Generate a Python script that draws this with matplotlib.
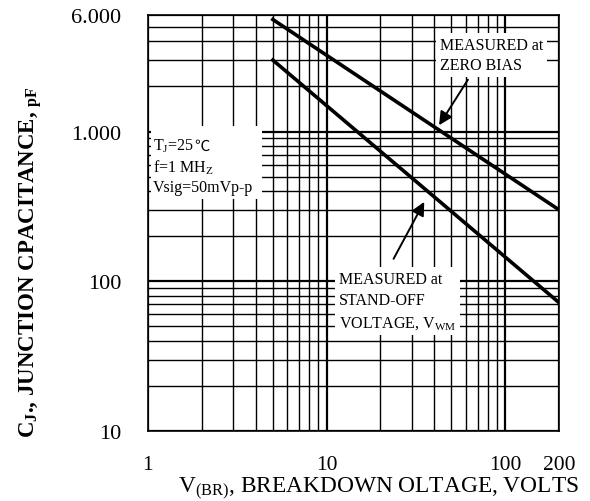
import numpy as np
import matplotlib
matplotlib.use("Agg")
import matplotlib.pyplot as plt
from matplotlib.patches import Rectangle
from matplotlib.ticker import FixedLocator, NullFormatter

plt.rcParams['font.family'] = ['Liberation Serif', 'DejaVu Serif']
plt.rcParams['mathtext.fontset'] = 'custom'
plt.rcParams['mathtext.rm'] = 'Liberation Serif'
plt.rcParams['mathtext.it'] = 'Liberation Serif:italic'
plt.rcParams['mathtext.bf'] = 'Liberation Serif:bold'

# data
voltage = [5, 200]
cap_zero_bias = [5600, 300]
cap_standoff = [3000, 72]

xticks = [1, 10, 100, 200]
xticklabels = ["1", "10", "100", "200"]
yticks = [10, 100, 1000, 6000]
yticklabels = ["10", "100", "1.000", "6.000"]

x_minor = [2, 3, 4, 5, 6, 7, 8, 9, 20, 30, 40, 50, 60, 70, 80, 90]
y_minor = [20, 30, 40, 50, 60, 70, 80, 90,
           200, 300, 400, 500, 600, 700, 800, 900,
           2000, 3000, 4000, 5000]

fig = plt.figure(figsize=(5.9, 5.02), dpi=100)
ax = fig.add_axes([0.2508, 0.1394, 0.6967, 0.8287])

ax.set_xscale('log')
ax.set_yscale('log')
ax.set_xlim(1, 200)
ax.set_ylim(10, 6000)

ax.xaxis.set_major_locator(FixedLocator(xticks))
ax.set_xticklabels(xticklabels)
ax.yaxis.set_major_locator(FixedLocator(yticks))
ax.set_yticklabels(yticklabels)
ax.xaxis.set_minor_locator(FixedLocator(x_minor))
ax.yaxis.set_minor_locator(FixedLocator(y_minor))
ax.xaxis.set_minor_formatter(NullFormatter())
ax.yaxis.set_minor_formatter(NullFormatter())

ax.tick_params(which='both', length=0)
ax.tick_params(axis='x', pad=17, labelsize=15.5)
ax.tick_params(axis='y', pad=19, labelsize=16)

ax.grid(which='major', color='black', linewidth=1.6)
ax.grid(which='minor', color='black', linewidth=1.0)
ax.set_axisbelow(True)
for sp in ax.spines.values():
    sp.set_linewidth(1.2)

ax.plot(voltage, cap_zero_bias, color='black', linewidth=2.6, zorder=3)
ax.plot(voltage, cap_standoff, color='black', linewidth=2.6, zorder=3)

box = dict(facecolor='white', edgecolor='none', pad=3)

# conditions box (white patch + three lines, degree-C sign from a CJK font)
ax.add_patch(Rectangle((0.008, 0.558), 0.27, 0.176, transform=ax.transAxes,
                       facecolor='white', edgecolor='none', zorder=2.5))
t1 = ax.text(1.07, 930, "T$_\\mathrm{J}$=25", fontsize=11.5, va='top',
             ha='left', zorder=4)
ax.annotate("\u2103", xy=(1, 0), xycoords=t1, ha='left', va='bottom',
            fontsize=11, family=['Noto Sans CJK SC', 'DejaVu Sans'], zorder=4)
ax.text(1.07, 668, "f=1 MH$_\\mathrm{Z}$", fontsize=11.5, va='top',
        ha='left', zorder=4)
ax.text(1.07, 480, "Vsig=50mVp-p", fontsize=11.5, va='top',
        ha='left', zorder=4)

ax.text(43, 4300, "MEASURED at\nZERO BIAS",
        fontsize=11.5, va='top', ha='left', linespacing=1.35, bbox=box, zorder=4)
ax.text(11.7, 117, "MEASURED at\nSTAND-OFF\nVOLTAGE, V$_\\mathrm{WM}$",
        fontsize=11.5, va='top', ha='left', linespacing=1.45, bbox=box, zorder=4)

arrow = dict(arrowstyle='-|>', color='black', linewidth=1.4, mutation_scale=20)
ax.annotate("", xy=(41.8, 1063), xytext=(63, 2300), arrowprops=arrow, zorder=5)
ax.annotate("", xy=(35.8, 352), xytext=(23.3, 136), arrowprops=arrow, zorder=5)

fig.text(0.642, 0.026, "V$_\\mathrm{(BR)}$, BREAKDOWN OLTAGE, VOLTS",
         fontsize=16.8, ha='center', va='center')
fig.text(0.052, 0.478, "C$_\\mathbf{J}$., JUNCTION CPACITANCE, $_\\mathbf{pF}$",
         fontsize=16.5, fontweight='bold', rotation=90, ha='center', va='center')

fig.savefig("out.png", dpi=100)
